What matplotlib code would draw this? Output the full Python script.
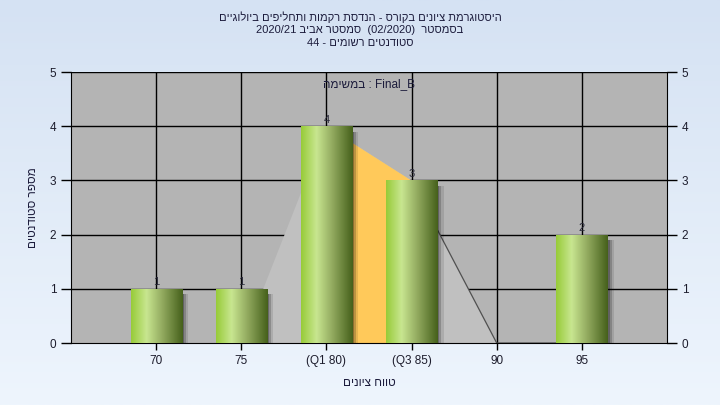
import numpy as np
import matplotlib
matplotlib.use("Agg")
import matplotlib.pyplot as plt
from matplotlib.colors import LinearSegmentedColormap
from matplotlib.patches import Rectangle

plt.rcParams['font.family'] = ['Liberation Sans', 'DejaVu Sans']

# נתונים
categories = ["70", "75", "(Q1 80)", "(Q3 85)", "90", "95"]
counts = [1, 1, 4, 3, 0, 2]
curve_vals = [0, 0, 4, 3, 0, 0]
q_range = [2, 3]  # אינדקסים של Q1..Q3

title_lines = [
    "היסטוגרמת ציונים בקורס - הנדסת רקמות ותחליפים ביולוגיים",
    "בסמסטר  (02/2020)  סמסטר אביב 2020/21",
    "סטודנטים רשומים - 44",
]
legend_text = "Final_B : במשימה"
ylabel = "מספר סטודנטים"
xlabel = "טווח ציונים"


def rtl(s):
    # היפוך פשוט לתצוגה מימין לשמאל
    out = []
    for t in reversed(s.split(' ')):
        if any('\u0590' <= c <= '\u05ff' for c in t):
            out.append(t[::-1])
        else:
            out.append(t)
    return ' '.join(out)


fig = plt.figure(figsize=(7.2, 4.05), dpi=100)

# רקע מדורג
bg = fig.add_axes([0, 0, 1, 1], zorder=-10)
grad = np.linspace(0, 1, 256).reshape(-1, 1)
bg_cmap = LinearSegmentedColormap.from_list("bg", ["#d5e2f3", "#eef5fd"])
bg.imshow(grad, aspect='auto', cmap=bg_cmap, extent=[0, 1, 0, 1])
bg.axis('off')

ax = fig.add_axes([0.0986, 0.153, 0.8278, 0.669])
ax.set_facecolor("#b4b4b4")
x = np.arange(1, len(categories) + 1)

# רשת
for yv in range(1, 6):
    ax.axhline(yv, color="black", lw=1.0, zorder=0.5)
for xv in x:
    ax.axvline(xv, color="black", lw=1.0, zorder=0.5)

# שטח אפור ועקומה
ax.fill_between(x, 0, curve_vals, color="#c0c0c0", zorder=1, lw=0)
qi = np.array(q_range)
ax.fill_between(x[qi], 0, np.array(curve_vals)[qi], color="#ffc95a", zorder=1.2, lw=0)
ax.plot(x[3:], curve_vals[3:], color="#505050", lw=0.9, zorder=1.5)

# עמודות עם מדרג
bar_cmap = LinearSegmentedColormap.from_list(
    "bar", [(0, "#97cb38"), (0.3, "#c8e690"), (0.6, "#93ab60"), (1.0, "#45601b")])
bw = 0.6
bars = ax.bar(x, counts, width=bw, color="none", zorder=3, lw=0)
hgrad = np.linspace(0, 1, 256).reshape(1, -1)
for xi, c, b in zip(x, counts, bars):
    if c == 0:
        continue
    for d, a in [(0.025, 0.25), (0.05, 0.18), (0.075, 0.1)]:
        ax.add_patch(Rectangle((xi - bw / 2 + d, 0), bw, c - 0.1,
                               color="black", alpha=a, lw=0, zorder=2.5))
    im = ax.imshow(hgrad, aspect='auto', cmap=bar_cmap,
                   extent=[xi - bw / 2, xi + bw / 2, 0, c], zorder=3)
    im.set_clip_path(b)
    ax.text(xi, c + 0.03, str(c), ha='center', va='bottom', fontsize=8,
            color="#2a2a3a", zorder=4)

ax.set_xlim(0, len(categories) + 1)
ax.set_ylim(0, 5)
ax.set_xticks(x)
ax.set_xticklabels(categories, fontsize=8.5, color="#1c1c2c")
ax.set_yticks(range(0, 6))
ax.tick_params(axis='y', direction='out', length=7, labelsize=8.5,
               labelcolor="#1c1c2c", right=True, labelright=True, width=1)
ax.tick_params(axis='x', direction='out', length=5, width=1)
for sp in ['left', 'right', 'bottom']:
    ax.spines[sp].set_color("black")
ax.spines['top'].set_visible(False)

ax.set_ylabel(rtl(ylabel), fontsize=8.5, color="#1c1c3c", labelpad=8)
ax.set_xlabel(rtl(xlabel), fontsize=8.5, color="#1c1c3c", labelpad=7)

ax.text(0.5, 0.955, rtl(legend_text), transform=ax.transAxes, ha='center',
        va='center', fontsize=8.5, color="#1c1c3c", zorder=5)

fig.text(0.5, 0.972, "\n".join(rtl(t) for t in title_lines), ha='center',
         va='top', fontsize=8.0, color="#1c1c3c", linespacing=1.3)

fig.savefig("out.png", dpi=100)
